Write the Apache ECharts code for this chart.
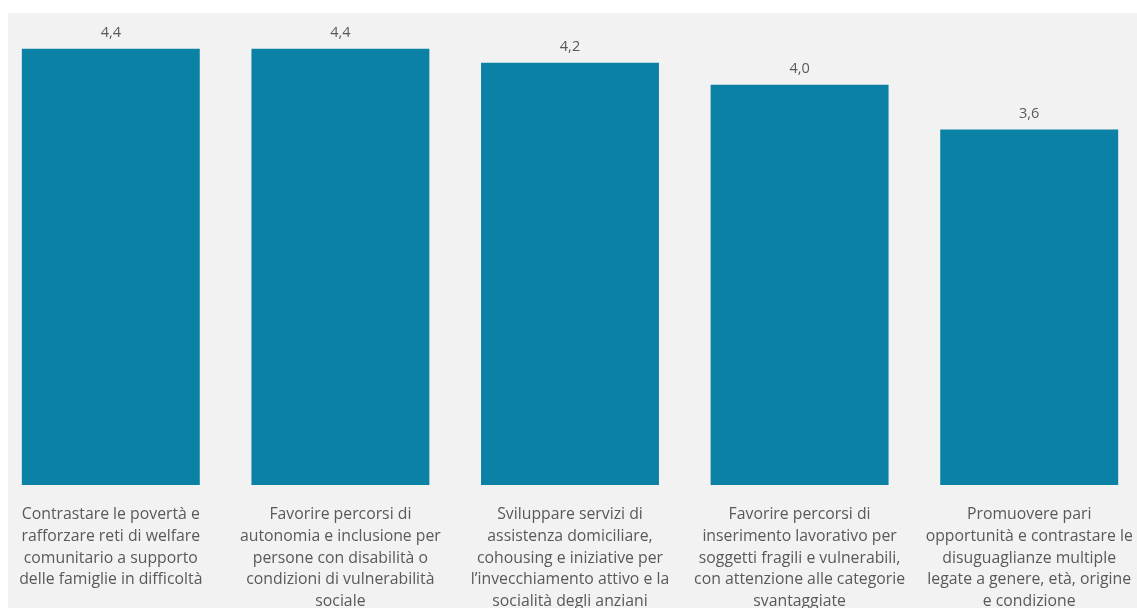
<!DOCTYPE html>
<html>
<head>
<meta charset="utf-8">
<script src="https://cdn.jsdelivr.net/npm/echarts@6/dist/echarts.min.js"></script>
<style>
html,body{margin:0;padding:0;background:#fff;overflow:hidden;width:1137px;height:608px;position:relative;}
#chart{width:1150px;height:608px;position:absolute;left:-4px;top:0;}
</style>
</head>
<body>
<div id="chart"></div>
<script>
const categories = [
  "Contrastare le povertà e\nrafforzare reti di welfare\ncomunitario a supporto\ndelle famiglie in difficoltà",
  "Favorire percorsi di\nautonomia e inclusione per\npersone con disabilità o\ncondizioni di vulnerabilità\nsociale",
  "Sviluppare servizi di\nassistenza domiciliare,\ncohousing e iniziative per\nl’invecchiamento attivo e la\nsocialità degli anziani",
  "Favorire percorsi di\ninserimento lavorativo per\nsoggetti fragili e vulnerabili,\ncon attenzione alle categorie\nsvantaggiate",
  "Promuovere pari\nopportunità e contrastare le\ndisuguaglianze multiple\nlegate a genere, età, origine\ne condizione"
];
const values = [4.38, 4.38, 4.24, 4.02, 3.57];

const chart = echarts.init(document.getElementById('chart'));
chart.setOption({
  backgroundColor: '#ffffff',
  animation: false,
  graphic: [{
    type: 'rect', z: -10,
    shape: {x: 12, y: 13, width: 1138, height: 595},
    style: {fill: '#f2f2f2'}
  }],
  grid: {left: 0, right: 2, top: 7, bottom: 123, containLabel: false, outerBoundsMode: 'none'},
  xAxis: {
    type: 'category',
    data: categories,
    axisLine: {show: false},
    axisTick: {show: false},
    axisLabel: {
      interval: 0,
      margin: 18.5,
      color: '#595959',
      fontFamily: 'Open Sans',
      fontSize: 15.8,
      lineHeight: 21.8,
      align: 'center',
      verticalAlign: 'top'
    }
  },
  yAxis: {
    type: 'value', min: 0, max: 4.8,
    show: false,
    splitLine: {show: false}
  },
  series: [{
    type: 'bar',
    data: values,
    barCategoryGap: '22.5%',
    itemStyle: {color: '#0b82a5'},
    label: {
      show: true,
      position: 'top',
      distance: 8,
      color: '#595959',
      fontFamily: 'Open Sans',
      fontSize: 14.5,
      formatter: p => p.value.toFixed(1).replace('.', ',')
    }
  }]
});
</script>
</body>
</html>
